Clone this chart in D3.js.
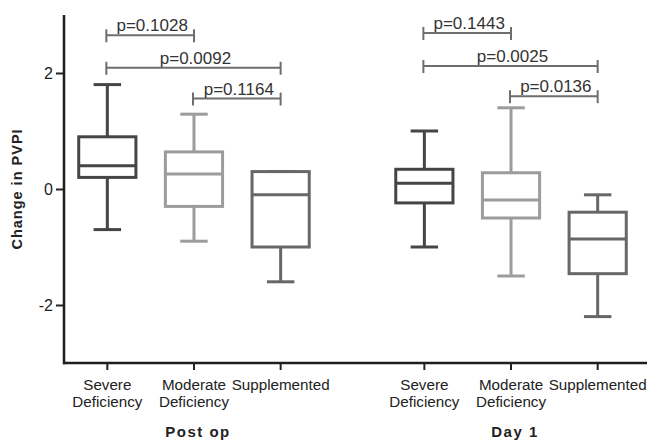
<!DOCTYPE html>
<html>
<head>
<meta charset="utf-8">
<script src="https://cdn.jsdelivr.net/npm/d3@7"></script>
<style>
  body { margin: 0; background: #fff; }
  svg { font-family: "Liberation Sans", Arial, sans-serif; }
</style>
</head>
<body>
<script>
// timepoints and groups
const timepoints = ["Post op", "Day 1"];
const groups = ["Severe Deficiency", "Moderate Deficiency", "Supplemented"];
const groupLines = [["Severe", "Deficiency"], ["Moderate", "Deficiency"], ["Supplemented"]];
const groupColors = ["#454545", "#9c9c9c", "#676767"];

// box stats [min, q1, median, q3, max], one row per group
const postOpStats = [
    [-0.7, 0.2, 0.4, 0.9, 1.8],
    [-0.9, -0.3, 0.26, 0.64, 1.29],
    [-1.6, -1.0, -0.1, 0.3, 0.3]
];
const day1Stats = [
    [-1.0, -0.24, 0.1, 0.34, 1.0],
    [-1.5, -0.5, -0.19, 0.28, 1.4],
    [-2.2, -1.46, -0.86, -0.4, -0.1]
];

// significance brackets: [from group, to group, level, label]
const postOpPvals = [
    [0, 1, 2.65, "p=0.1028"],
    [0, 2, 2.09, "p=0.0092"],
    [1, 2, 1.56, "p=0.1164"]
];
const day1Pvals = [
    [0, 1, 2.69, "p=0.1443"],
    [0, 2, 2.12, "p=0.0025"],
    [1, 2, 1.6, "p=0.0136"]
];

const yTicks = [-2, 0, 2];

const stats = [postOpStats, day1Stats];
const pvals = [postOpPvals, day1Pvals];

const width = 647, height = 440;
const svg = d3.select("body").append("svg")
    .attr("width", width)
    .attr("height", height);

const y = d3.scaleLinear().domain([-3, 3]).range([363, 15]);
const x0 = d3.scaleBand().domain(timepoints).range([64, 641]).paddingInner(0.18).paddingOuter(0);
const x1 = d3.scaleBand().domain(groups).range([0, x0.bandwidth()]);
const boxW = x1.bandwidth() * 0.66;
const capW = boxW * 0.48;
const cx = (t, g) => x0(t) + x1(g) + x1.bandwidth() / 2;

// y axis
const yAxis = svg.append("g")
    .attr("transform", "translate(64,0)")
    .call(d3.axisLeft(y).tickValues(yTicks).tickSize(8).tickPadding(3).tickFormat(d => String(d)));
yAxis.select(".domain").remove();
yAxis.selectAll(".tick line").attr("stroke", "#222").attr("stroke-width", 2);
yAxis.selectAll(".tick text").attr("font-size", 16).attr("fill", "#222")
    .attr("font-family", "Liberation Sans, Arial, sans-serif");

svg.append("line")
    .attr("x1", 64).attr("x2", 64)
    .attr("y1", y(3)).attr("y2", y(-3) + 1.2)
    .attr("stroke", "#1e1e1e").attr("stroke-width", 2.5);

svg.append("text")
    .attr("transform", "translate(22," + y(0) + ") rotate(-90)")
    .attr("text-anchor", "middle")
    .attr("font-size", 14.5)
    .attr("font-weight", "bold")
    .attr("letter-spacing", 1)
    .attr("fill", "#222")
    .text("Change in PVPI");

// x axis
svg.append("line")
    .attr("x1", 63).attr("x2", width)
    .attr("y1", y(-3)).attr("y2", y(-3))
    .attr("stroke", "#1e1e1e").attr("stroke-width", 2.5);

timepoints.forEach((t, ti) => {
    groups.forEach((g, gi) => {
        const c = cx(t, g);
        svg.append("line")
            .attr("x1", c).attr("x2", c)
            .attr("y1", y(-3)).attr("y2", y(-3) + 7)
            .attr("stroke", "#222").attr("stroke-width", 2);
        const lbl = svg.append("text")
            .attr("text-anchor", "middle")
            .attr("font-size", 15.2)
            .attr("fill", "#222");
        groupLines[gi].forEach((ln, li) => {
            lbl.append("tspan")
                .attr("x", c)
                .attr("y", y(-3) + 27 + li * 17)
                .text(ln);
        });
    });

    svg.append("text")
        .attr("x", x0(t) + x0.bandwidth() / 2 + 4)
        .attr("y", 437)
        .attr("text-anchor", "middle")
        .attr("font-size", 15)
        .attr("font-weight", "bold")
        .attr("letter-spacing", 1.5)
        .attr("fill", "#222")
        .text(t);

    // boxes
    stats[ti].forEach((s, gi) => {
        const c = cx(t, groups[gi]);
        const col = groupColors[gi];
        const b = svg.append("g")
            .attr("stroke", col)
            .attr("stroke-width", 3)
            .attr("fill", "none");
        b.append("line").attr("x1", c).attr("x2", c).attr("y1", y(s[0])).attr("y2", y(s[1]));
        b.append("line").attr("x1", c).attr("x2", c).attr("y1", y(s[3])).attr("y2", y(s[4]));
        b.append("line").attr("x1", c - capW / 2).attr("x2", c + capW / 2).attr("y1", y(s[0])).attr("y2", y(s[0]));
        b.append("line").attr("x1", c - capW / 2).attr("x2", c + capW / 2).attr("y1", y(s[4])).attr("y2", y(s[4]));
        b.append("rect")
            .attr("x", c - boxW / 2).attr("width", boxW)
            .attr("y", y(s[3])).attr("height", y(s[1]) - y(s[3]))
            .attr("fill", "#fff");
        b.append("line").attr("x1", c - boxW / 2).attr("x2", c + boxW / 2).attr("y1", y(s[2])).attr("y2", y(s[2]));
    });

    // significance brackets
    pvals[ti].forEach(p => {
        const xa = cx(t, groups[p[0]]) - 1, xb = cx(t, groups[p[1]]);
        const yy = y(p[2]);
        const br = svg.append("g").attr("stroke", "#6e6e6e").attr("stroke-width", 2);
        br.append("line").attr("x1", xa).attr("x2", xb).attr("y1", yy).attr("y2", yy);
        br.append("line").attr("x1", xa).attr("x2", xa).attr("y1", yy - 6).attr("y2", yy + 7);
        br.append("line").attr("x1", xb).attr("x2", xb).attr("y1", yy - 6).attr("y2", yy + 7);
        svg.append("text")
            .attr("x", (xa + xb) / 2 + 2)
            .attr("y", yy - 4)
            .attr("text-anchor", "middle")
            .attr("font-size", 17)
            .attr("fill", "#333")
            .text(p[3]);
    });
});
</script>
</body>
</html>
